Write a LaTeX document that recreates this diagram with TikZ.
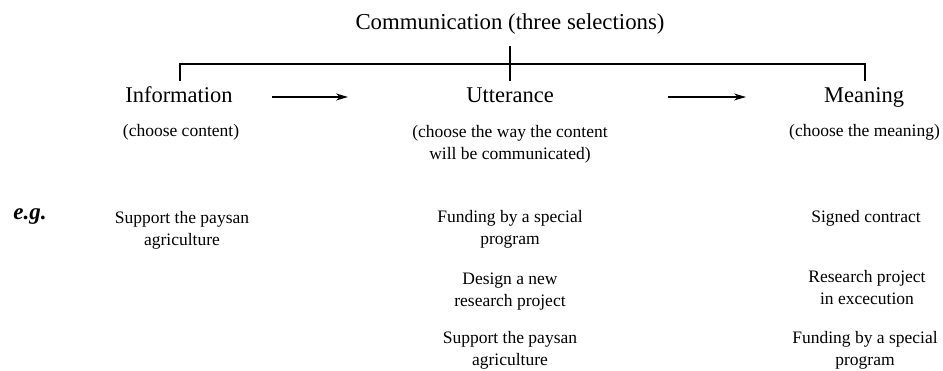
\documentclass[tikz,border=0pt]{standalone}
\usepackage{fontspec}
\setmainfont{Liberation Serif}
\usetikzlibrary{arrows.meta}
\begin{document}
\begin{tikzpicture}[x=1pt,y=-1pt,
  head/.style={font=\fontsize{22.5}{25}\selectfont, inner sep=0pt, anchor=base},
  txt/.style={font=\fontsize{17.5}{22.5}\selectfont, inner sep=0pt, align=center, anchor=base},
  conn/.style={line width=1.3pt},
  arr/.style={line width=1.2pt, -{Stealth[length=12pt,width=7pt]}}]
\useasboundingbox (0,0) rectangle (943,371);
\node[head, font=\fontsize{22.8}{25}\selectfont] (title) at (510,30) {Communication (three selections)};
\node[head] (info) at (179,103) {Information};
\node[head] (utt) at (510,103) {Utterance};
\node[head] (mean) at (864,103) {Meaning};
\coordinate (top) at (510,46);
\coordinate (bl) at (180,64);
\coordinate (br) at (865,64);
\coordinate (bld) at (180,81);
\coordinate (brd) at (865,81);
\coordinate (mid) at (510,81);
\draw[conn] (bld) -- (bl) -- (br) -- (brd);
\draw[conn] (top) -- (mid);
\coordinate (a1s) at (272,97);
\coordinate (a1e) at (348,97);
\coordinate (a2s) at (668,97);
\coordinate (a2e) at (746,97);
\draw[arr] (a1s) -- (a1e);
\draw[arr] (a2s) -- (a2e);
\node[txt] (infos) at (181,137) {(choose content)};
\node[txt] (utts) at (510,160) {(choose the way the content\\will be communicated)};
\node[txt, anchor=base west] (means) at (789,137) {(choose the meaning)};
\node[font=\fontsize{23}{25}\selectfont\bfseries\itshape, inner sep=0pt, anchor=base] (eg) at (30,220) {e.g.};
\node[txt] (e1) at (182,246) {Support the paysan\\agriculture};
\node[txt] (u1) at (510,245) {Funding by a special\\program};
\node[txt] (u2) at (510,307) {Design a new\\research project};
\node[txt] (u3) at (510,366) {Support the paysan\\agriculture};
\node[txt] (m1) at (866,223) {Signed contract};
\node[txt] (m2) at (867,305) {Research project\\in excecution};
\node[txt] (m3) at (865,366) {Funding by a special\\program};
\end{tikzpicture}
\end{document}
